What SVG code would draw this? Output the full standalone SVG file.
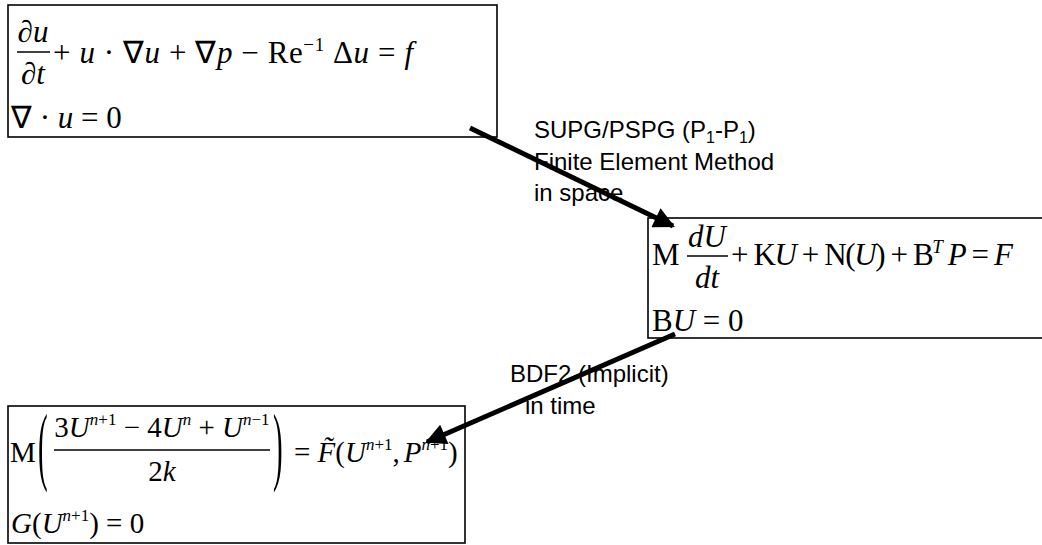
<svg xmlns="http://www.w3.org/2000/svg" width="1042" height="545" viewBox="0 0 1042 545">
<style>
.box{fill:#fff;stroke:#000;stroke-width:1.6}
.m{font-family:"Liberation Serif","Times New Roman",serif;font-size:31px;fill:#000}
.m3{font-family:"Liberation Serif","Times New Roman",serif;font-size:29px;fill:#000}
.i{font-style:italic}
.sup{font-size:19px}
.sup3{font-size:17px}
.lbl{font-family:"Liberation Sans",Arial,sans-serif;font-size:24px;fill:#000}
.sub{font-size:16px}
.bar{stroke:#000;stroke-width:1.4}
.conn{stroke:#000;stroke-width:5;fill:none;marker-end:url(#ah)}
</style>
<defs>
<marker id="ah" viewBox="0 0 10 10" refX="9" refY="5" markerWidth="5.5" markerHeight="4.2" orient="auto" markerUnits="strokeWidth">
<path d="M0,0 L10,5 L0,10 z" fill="#000"/>
</marker>
</defs>
<rect width="1042" height="545" fill="#fff"/>

<g id="node-ns">
<rect class="box" x="8" y="5" width="489" height="132"/>
<text class="m" x="33" y="42" text-anchor="middle">∂<tspan class="i">u</tspan></text>
<line class="bar" x1="17" y1="52" x2="50" y2="52"/>
<text class="m" x="33" y="84" text-anchor="middle">∂<tspan class="i">t</tspan></text>
<text class="m" x="53" y="63" textLength="360" lengthAdjust="spacing">+ <tspan class="i">u</tspan> · ∇<tspan class="i">u</tspan> + ∇<tspan class="i">p</tspan> − Re<tspan class="sup" dy="-12">−1</tspan><tspan dy="12"> Δ</tspan><tspan class="i">u</tspan> = <tspan class="i">f</tspan></text>
<text class="m" x="11" y="128">∇ · <tspan class="i">u</tspan> = 0</text>
</g>

<g id="node-semi">
<rect class="box" x="648" y="218" width="400" height="120"/>
<text class="m" x="652" y="265">M</text>
<text class="m" x="707" y="247" text-anchor="middle"><tspan class="i">dU</tspan></text>
<line class="bar" x1="687" y1="256" x2="728" y2="256"/>
<text class="m" x="707" y="288" text-anchor="middle"><tspan class="i">dt</tspan></text>
<text class="m" x="731" y="265" textLength="282" lengthAdjust="spacing">+ K<tspan class="i">U</tspan> + N(<tspan class="i">U</tspan>) + B<tspan class="sup i" dy="-12">T</tspan><tspan class="i" dy="12"> P</tspan> = <tspan class="i">F</tspan></text>
<text class="m" x="652" y="331">B<tspan class="i">U</tspan> = 0</text>
</g>

<g id="node-bdf">
<rect class="box" x="8" y="406" width="457" height="137"/>
<text class="m3" x="10" y="462">M</text>
<text class="m3" transform="translate(38,474) scale(1,3)">(</text>
<text class="m3" x="162" y="437" text-anchor="middle">3<tspan class="i">U</tspan><tspan class="sup3" dy="-12"><tspan class="i">n</tspan>+1</tspan><tspan dy="12"> − 4</tspan><tspan class="i">U</tspan><tspan class="sup3 i" dy="-12">n</tspan><tspan dy="12"> + </tspan><tspan class="i">U</tspan><tspan class="sup3" dy="-12"><tspan class="i">n</tspan>−1</tspan></text>
<line class="bar" x1="54" y1="450" x2="270" y2="450"/>
<text class="m3" x="162" y="481" text-anchor="middle">2<tspan class="i">k</tspan></text>
<text class="m3" transform="translate(273,474) scale(1,3)">)</text>
<text class="m3" x="294" y="462">= <tspan class="i">F̃</tspan>(<tspan class="i">U</tspan><tspan class="sup3" dy="-12"><tspan class="i">n</tspan>+1</tspan><tspan dy="12">,</tspan><tspan class="i" dx="4">P</tspan><tspan class="sup3" dy="-12"><tspan class="i">n</tspan>+1</tspan><tspan dy="12">)</tspan></text>
<text class="m3" x="11" y="533"><tspan class="i">G</tspan>(<tspan class="i">U</tspan><tspan class="sup3" dy="-12"><tspan class="i">n</tspan>+1</tspan><tspan dy="12">) = 0</tspan></text>
</g>

<g id="connectors">
<line class="conn" x1="470" y1="128" x2="673" y2="226"/>
<line class="conn" x1="675" y1="334" x2="427" y2="442"/>
</g>

<g id="labels">
<text class="lbl" x="534" y="138">SUPG/PSPG (P<tspan class="sub" dy="5">1</tspan><tspan dy="-5">-P</tspan><tspan class="sub" dy="5">1</tspan><tspan dy="-5">)</tspan></text>
<text class="lbl" x="534" y="170">Finite Element Method</text>
<text class="lbl" x="534" y="201">in space</text>
<text class="lbl" x="510" y="382">BDF2 (Implicit)</text>
<text class="lbl" x="525" y="414">in time</text>
</g>
</svg>
